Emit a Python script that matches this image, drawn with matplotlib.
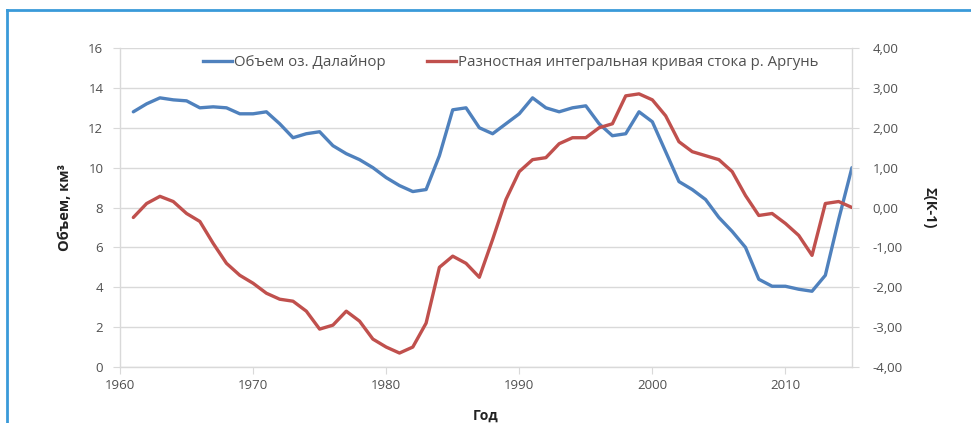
import matplotlib.pyplot as plt
from matplotlib.lines import Line2D
import numpy as np

# годы наблюдений
years = list(range(1961, 2016))

# объем оз. Далайнор, км3
volume = [12.8, 13.2, 13.5, 13.4, 13.35, 13.0, 13.05, 13.0, 12.7, 12.7,
          12.8, 12.2, 11.5, 11.7, 11.8, 11.1, 10.7, 10.4, 10.0, 9.5,
          9.1, 8.8, 8.9, 10.6, 12.9, 13.0, 12.0, 11.7, 12.2, 12.7,
          13.5, 13.0, 12.8, 13.0, 13.1, 12.2, 11.6, 11.7, 12.8, 12.3,
          10.8, 9.3, 8.9, 8.4, 7.5, 6.8, 6.0, 4.4, 4.05, 4.05,
          3.9, 3.8, 4.6, 7.4, 10.0]

# разностная интегральная кривая стока р. Аргунь, Σ(К-1)
diff_curve = [-0.25, 0.1, 0.28, 0.15, -0.15, -0.35, -0.9, -1.4, -1.7, -1.9,
              -2.15, -2.3, -2.35, -2.6, -3.05, -2.95, -2.6, -2.85, -3.3, -3.5,
              -3.65, -3.5, -2.9, -1.5, -1.22, -1.4, -1.75, -0.8, 0.2, 0.9,
              1.2, 1.25, 1.6, 1.75, 1.75, 2.0, 2.1, 2.8, 2.85, 2.7,
              2.3, 1.65, 1.4, 1.3, 1.2, 0.9, 0.3, -0.2, -0.15, -0.4,
              -0.7, -1.2, 0.1, 0.15, 0.0]

left_ticks = [0, 2, 4, 6, 8, 10, 12, 14, 16]
right_ticks = [-4, -3, -2, -1, 0, 1, 2, 3, 4]
x_ticks = [1960, 1970, 1980, 1990, 2000, 2010]

blue = '#4f81bd'
red = '#c0504d'
grid_c = '#d9d9d9'
txt_c = '#505050'

plt.rcParams['font.family'] = ['Open Sans', 'DejaVu Sans']

fig = plt.figure(figsize=(9.71, 4.23), dpi=100)
ax = fig.add_axes([0.1236, 0.1324, 0.7538, 0.7541])
ax2 = ax.twinx()

ax.plot(years, volume, color=blue, lw=2.4, solid_joinstyle='round', solid_capstyle='round', zorder=3)
ax2.plot(years, diff_curve, color=red, lw=2.4, solid_joinstyle='round', solid_capstyle='round', zorder=3)

ax.set_xlim(1960, 2015)
ax.set_ylim(0, 16)
ax2.set_ylim(-4, 4)
ax.set_xticks(x_ticks)
ax.set_yticks(left_ticks)
ax2.set_yticks(right_ticks)
ax2.set_yticklabels([('%.2f' % v).replace('.', ',') for v in right_ticks])

ax.grid(axis='y', color=grid_c, lw=1)
ax.set_axisbelow(True)

for a in (ax, ax2):
    for s in a.spines.values():
        s.set_visible(False)
ax.spines['left'].set_visible(True)
ax.spines['bottom'].set_visible(True)
ax2.spines['right'].set_visible(True)
for s in (ax.spines['left'], ax.spines['bottom'], ax2.spines['right']):
    s.set_color(grid_c)
    s.set_linewidth(1)

ax.tick_params(axis='x', length=5, color=grid_c, labelsize=9.5, labelcolor=txt_c, pad=4)
ax.tick_params(axis='y', length=5, color=grid_c, labelsize=9.5, labelcolor=txt_c, pad=7)
ax2.tick_params(axis='y', length=5, color=grid_c, labelsize=9.5, labelcolor=txt_c, pad=10)

ax.set_ylabel('Объем, км³', fontsize=10.5, fontweight='bold', color='#222222', labelpad=12)
ax2.set_ylabel('Σ(К-1)', fontsize=10.5, fontweight='bold', color='#222222', rotation=-90, labelpad=24)
ax.set_xlabel('Год', fontsize=10, fontweight='bold', color='#222222', labelpad=12)

handles = [Line2D([], [], color=blue, lw=2.4), Line2D([], [], color=red, lw=2.4)]
ax.legend(handles, ['Объем оз. Далайнор', 'Разностная интегральная кривая стока р. Аргунь'],
          loc='upper left', bbox_to_anchor=(0.095, 1.02), ncol=2, frameon=False,
          fontsize=10.8, handlelength=1.9, handletextpad=0.15, columnspacing=2.8,
          labelcolor=txt_c)

# синяя рамка сверху и слева
fig.add_artist(Line2D([7 / 971, 1.0], [1 - 10 / 423, 1 - 10 / 423], color='#3a9ad9', lw=2))
fig.add_artist(Line2D([7 / 971, 7 / 971], [0, 1 - 10 / 423], color='#3a9ad9', lw=2))

fig.savefig('out.png', dpi=100)
